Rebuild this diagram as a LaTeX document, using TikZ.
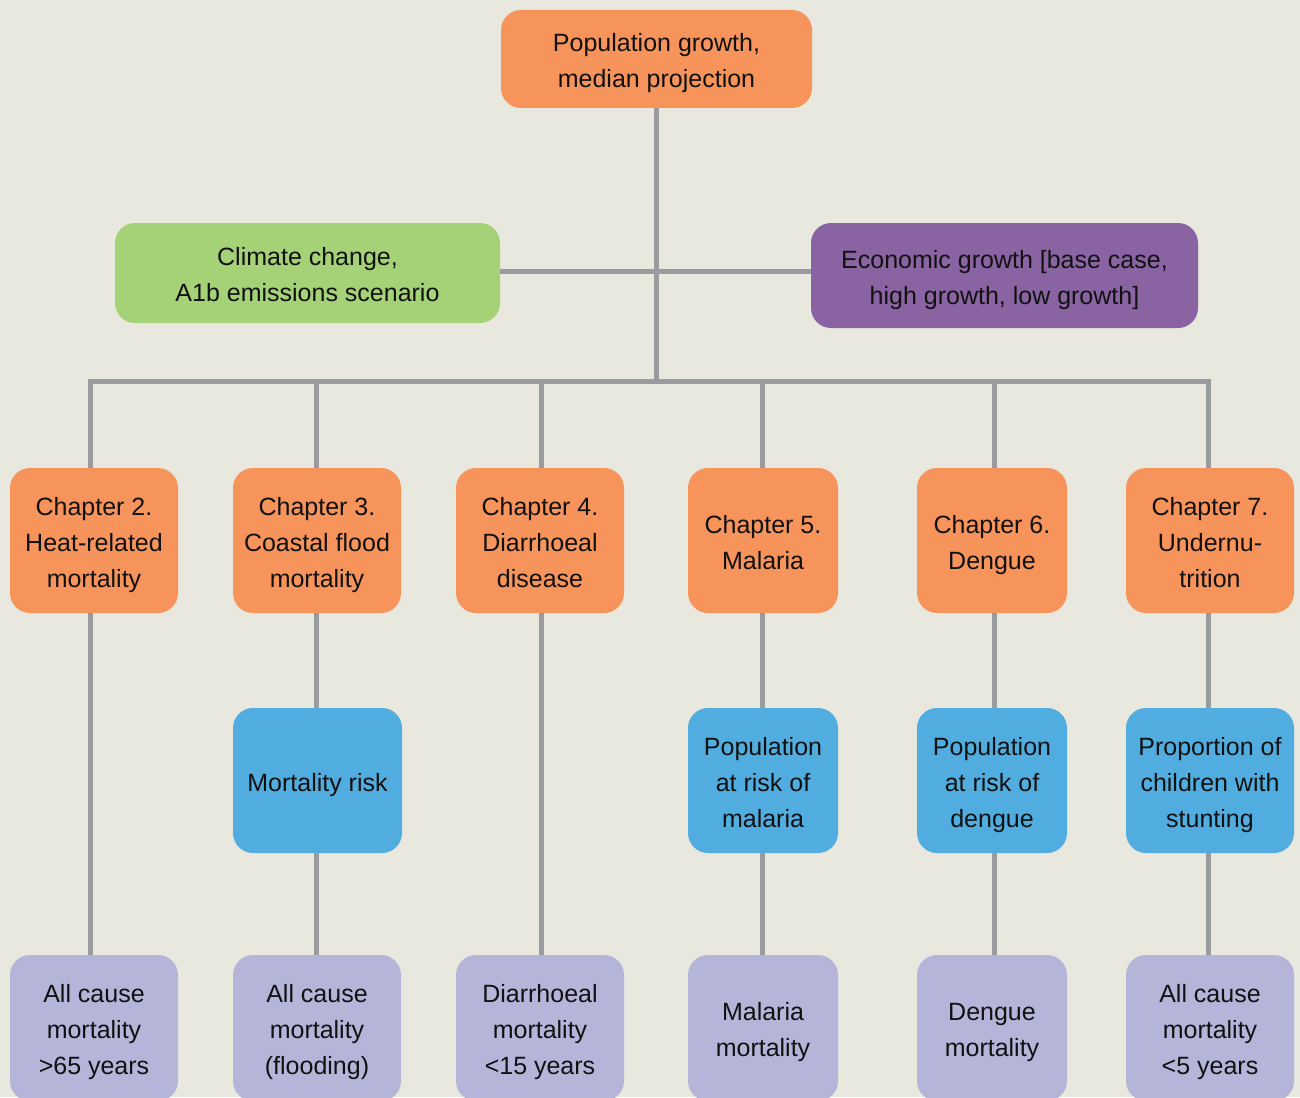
\documentclass[tikz,border=0pt]{standalone}
\usepackage{fontspec}
\setmainfont{Liberation Sans}
\definecolor{bgc}{HTML}{E8E8DE}
\definecolor{orng}{HTML}{F7945C}
\definecolor{grn}{HTML}{A6D277}
\definecolor{purp}{HTML}{8A64A2}
\definecolor{blu}{HTML}{51ADDF}
\definecolor{lav}{HTML}{B5B5DA}
\definecolor{lne}{HTML}{9A9B9E}
\definecolor{txt}{HTML}{111111}
\newcommand{\ls}{\rule[-7.5pt]{0pt}{36pt}}
\tikzset{
  box/.style={rounded corners=20pt, inner sep=0pt, align=center, text=txt,
    font=\fontsize{25}{36}\selectfont},
  conn/.style={draw=lne, line width=5pt},
}
\begin{document}
\begin{tikzpicture}[x=1pt,y=-1pt]
\useasboundingbox (0,0) rectangle (1300,1097);
\clip (0,0) rectangle (1300,1097);
\fill[bgc] (0,0) rectangle (1300,1097);
% top row
\node[box, fill=orng, minimum width=311pt, minimum height=98pt] (pop) at (656.5,59) {\ls Population growth,\\\ls median projection};
\node[box, fill=grn, minimum width=385pt, minimum height=100pt] (clim) at (307.5,273) {\ls Climate change,\\\ls A1b emissions scenario};
\node[box, fill=purp, minimum width=387pt, minimum height=105pt] (econ) at (1004.5,275.5) {\ls Economic growth [base case,\\\ls high growth, low growth]};
% chapters
\node[box, fill=orng, minimum width=168pt, minimum height=145pt] (ch2) at (94,540.5) {\ls Chapter 2.\\\ls Heat-related\\\ls mortality};
\node[box, fill=orng, minimum width=168pt, minimum height=145pt] (ch3) at (317,540.5) {\ls Chapter 3.\\\ls Coastal flood\\\ls mortality};
\node[box, fill=orng, minimum width=168pt, minimum height=145pt] (ch4) at (540,540.5) {\ls Chapter 4.\\\ls Diarrhoeal\\\ls disease};
\node[box, fill=orng, minimum width=150pt, minimum height=145pt] (ch5) at (763,540.5) {\ls Chapter 5.\\\ls Malaria};
\node[box, fill=orng, minimum width=150pt, minimum height=145pt] (ch6) at (992,540.5) {\ls Chapter 6.\\\ls Dengue};
\node[box, fill=orng, minimum width=168pt, minimum height=145pt] (ch7) at (1210,540.5) {\ls Chapter 7.\\\ls Undernu-\\\ls trition};
% middle row
\node[box, fill=blu, minimum width=169pt, minimum height=145pt] (m3) at (317.5,780.5) {\ls Mortality risk};
\node[box, fill=blu, minimum width=150pt, minimum height=145pt] (m5) at (763,780.5) {\ls Population\\\ls at risk of\\\ls malaria};
\node[box, fill=blu, minimum width=150pt, minimum height=145pt] (m6) at (992,780.5) {\ls Population\\\ls at risk of\\\ls dengue};
\node[box, fill=blu, minimum width=168pt, minimum height=145pt] (m7) at (1210,780.5) {\ls Proportion of\\\ls children with\\\ls stunting};
% bottom row
\node[box, fill=lav, minimum width=168pt, minimum height=146pt] (o2) at (94,1028) {\ls All cause\\\ls mortality\\\ls >65 years};
\node[box, fill=lav, minimum width=168pt, minimum height=146pt] (o3) at (317,1028) {\ls All cause\\\ls mortality\\\ls (flooding)};
\node[box, fill=lav, minimum width=168pt, minimum height=146pt] (o4) at (540,1028) {\ls Diarrhoeal\\\ls mortality\\\ls <15 years};
\node[box, fill=lav, minimum width=150pt, minimum height=146pt] (o5) at (763,1028) {\ls Malaria\\\ls mortality};
\node[box, fill=lav, minimum width=150pt, minimum height=146pt] (o6) at (992,1028) {\ls Dengue\\\ls mortality};
\node[box, fill=lav, minimum width=168pt, minimum height=146pt] (o7) at (1210,1028) {\ls All cause\\\ls mortality\\\ls <5 years};
% junction coordinates
\coordinate (jh) at (656,271);
\coordinate (jm) at (656,381);
\coordinate (b2) at (90,381);
\coordinate (b3) at (316,381);
\coordinate (b4) at (541,381);
\coordinate (b5) at (762,381);
\coordinate (b6) at (994,381);
\coordinate (b7) at (1208,381);
% connectors
\draw[conn] (pop.south -| jm) -- (jm);
\draw[conn] (clim.east |- jh) -- (econ.west |- jh);
\draw[conn] (b2 |- ch2.north) -- (b2) -- (b7) -- (b7 |- ch7.north);
\draw[conn] (b3) -- (b3 |- ch3.north);
\draw[conn] (b4) -- (b4 |- ch4.north);
\draw[conn] (b5) -- (b5 |- ch5.north);
\draw[conn] (b6) -- (b6 |- ch6.north);
% vertical chains
\draw[conn] (b2 |- ch2.south) -- (b2 |- o2.north);
\draw[conn] (b3 |- ch3.south) -- (b3 |- m3.north);
\draw[conn] (b3 |- m3.south) -- (b3 |- o3.north);
\draw[conn] (b4 |- ch4.south) -- (b4 |- o4.north);
\draw[conn] (b5 |- ch5.south) -- (b5 |- m5.north);
\draw[conn] (b5 |- m5.south) -- (b5 |- o5.north);
\draw[conn] (b6 |- ch6.south) -- (b6 |- m6.north);
\draw[conn] (b6 |- m6.south) -- (b6 |- o6.north);
\draw[conn] (b7 |- ch7.south) -- (b7 |- m7.north);
\draw[conn] (b7 |- m7.south) -- (b7 |- o7.north);
\end{tikzpicture}
\end{document}
